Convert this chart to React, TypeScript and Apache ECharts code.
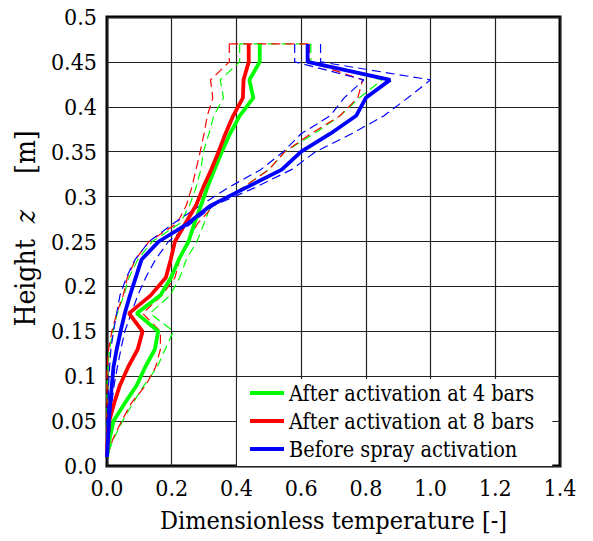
import React, { useEffect, useRef } from "react";
import * as echarts from "echarts";

const heights = [0.47, 0.45, 0.43, 0.41, 0.39, 0.37, 0.35, 0.33, 0.31, 0.29, 0.27, 0.25, 0.23, 0.21, 0.19, 0.17, 0.15, 0.13, 0.11, 0.09, 0.07, 0.05, 0.03, 0.01];

const before = [0.62, 0.62, 0.875, 0.80, 0.77, 0.69, 0.60, 0.54, 0.43, 0.32, 0.25, 0.16, 0.107, 0.089, 0.071, 0.055, 0.042, 0.03, 0.02, 0.015, 0.01, 0.006, 0.003, 0.0];
const beforeMax = [0.66, 0.66, 1.0, 0.93, 0.856, 0.756, 0.645, 0.57, 0.457, 0.33, 0.26, 0.19, 0.15, 0.12, 0.095, 0.075, 0.055, 0.043, 0.032, 0.022, 0.015, 0.01, 0.005, 0.0];
const beforeMin = [0.58, 0.58, 0.794, 0.733, 0.69, 0.60, 0.545, 0.475, 0.375, 0.288, 0.205, 0.13, 0.087, 0.06, 0.04, 0.03, 0.02, 0.012, 0.008, 0.005, 0.003, 0.0, 0.0, 0.0];

const bars4 = [0.472, 0.472, 0.44, 0.452, 0.41, 0.38, 0.355, 0.332, 0.31, 0.29, 0.27, 0.252, 0.222, 0.198, 0.165, 0.092, 0.158, 0.148, 0.118, 0.092, 0.055, 0.02, 0.008, 0.0];
const bars4Max = [0.63, 0.63, 0.85, 0.78, 0.72, 0.64, 0.55, 0.50, 0.42, 0.32, 0.30, 0.278, 0.245, 0.225, 0.195, 0.133, 0.205, 0.18, 0.155, 0.115, 0.08, 0.048, 0.02, 0.0];
const bars4Min = [0.41, 0.41, 0.35, 0.36, 0.33, 0.315, 0.298, 0.29, 0.275, 0.255, 0.225, 0.14, 0.095, 0.068, 0.052, 0.032, 0.018, 0.008, 0.003, 0.0, 0.0, 0.0, 0.0, 0.0];

const bars8 = [0.438, 0.438, 0.422, 0.42, 0.39, 0.366, 0.345, 0.322, 0.297, 0.275, 0.242, 0.21, 0.197, 0.182, 0.135, 0.068, 0.11, 0.095, 0.065, 0.04, 0.022, 0.007, 0.002, 0.0];
const bars8Max = [0.625, 0.625, 0.79, 0.775, 0.72, 0.63, 0.55, 0.50, 0.42, 0.33, 0.28, 0.25, 0.225, 0.21, 0.17, 0.11, 0.165, 0.165, 0.15, 0.12, 0.075, 0.045, 0.018, 0.0];
const bars8Min = [0.378, 0.378, 0.32, 0.327, 0.31, 0.30, 0.288, 0.275, 0.262, 0.245, 0.216, 0.13, 0.088, 0.063, 0.05, 0.03, 0.015, 0.005, 0.0, 0.0, 0.0, 0.0, 0.0, 0.0];

const xTicks = ["0.0", "0.2", "0.4", "0.6", "0.8", "1.0", "1.2", "1.4"];
const names = ["After activation at 4 bars", "After activation at 8 bars", "Before spray activation"];

const GREEN = "#00ff00";
const RED = "#ff0000";
const BLUE = "#0000ff";
const FONT = "DejaVu Serif Condensed, DejaVu Serif";

function pairs(vals: number[]) {
  return vals.map((v, i) => [v, heights[i]]);
}

function dashedStyle(color: string) {
  return { color, width: 1.2, type: [9, 5] };
}

function dashed(name: string, vals: number[], color: string) {
  return { name, type: "line", data: pairs(vals), symbol: "none", lineStyle: dashedStyle(color), z: 2 };
}

// top cap joining the lower and upper bounds at the highest measuring point
function cap(name: string, lo: number[], hi: number[], color: string) {
  return {
    name,
    type: "line",
    data: [
      [lo[0], heights[0]],
      [hi[0], heights[0]],
    ],
    symbol: "none",
    lineStyle: dashedStyle(color),
    z: 2,
  };
}

function solid(name: string, vals: number[], color: string) {
  return { name, type: "line", data: pairs(vals), symbol: "none", lineStyle: { color, width: 3.8 }, itemStyle: { color }, z: 3 };
}

export default function App() {
  const ref = useRef<HTMLDivElement>(null);
  useEffect(() => {
    if (!ref.current) return;
    const chart = echarts.init(ref.current, undefined, { renderer: "svg" });
    chart.setOption({
      animation: false,
      backgroundColor: "#fff",
      textStyle: { fontFamily: FONT },
      grid: { left: 107, top: 17, right: 33, bottom: 75, show: true, borderColor: "#000", borderWidth: 3, backgroundColor: "transparent" },
      xAxis: {
        type: "value", min: 0, max: 1.4, interval: 0.2,
        name: "Dimensionless temperature [-]", nameLocation: "middle", nameGap: 42,
        nameTextStyle: { fontFamily: FONT, fontSize: 25, color: "#000" },
        axisLine: { show: false }, axisTick: { show: false },
        axisLabel: { fontFamily: FONT, fontSize: 23, color: "#000", margin: 10, formatter: (v: number) => xTicks[Math.round(v / 0.2)] ?? v.toFixed(1) },
        splitLine: { show: true, lineStyle: { color: "#222", width: 1.2 } },
      },
      yAxis: {
        type: "value", min: 0, max: 0.5, interval: 0.05,
        name: "{h|Height}{i|z}{m|[m]}", nameLocation: "middle", nameGap: 68, nameRotate: 90,
        nameTextStyle: {
          fontFamily: FONT, fontSize: 28, color: "#000",
          rich: {
            h: { fontFamily: FONT, fontSize: 28, color: "#000", padding: [0, 16, 0, 26] },
            i: { fontFamily: FONT, fontSize: 28, color: "#000", fontStyle: "italic", padding: [0, 36, 0, 0] },
            m: { fontFamily: FONT, fontSize: 28, color: "#000" },
          },
        },
        axisLine: { show: false }, axisTick: { show: false },
        axisLabel: { fontFamily: FONT, fontSize: 23, color: "#000", margin: 10, formatter: (v: number) => (Math.abs(v) < 1e-9 ? "0.0" : String(Math.round(v * 100) / 100)) },
        splitLine: { show: true, lineStyle: { color: "#222", width: 1.2 } },
      },
      legend: {
        data: names, orient: "vertical", left: 237, top: 379, backgroundColor: "#fff",
        padding: [3, 18, 6, 13], itemGap: 6, itemWidth: 34, itemHeight: 4, icon: "rect",
        textStyle: { fontFamily: FONT, fontSize: 21.5, color: "#000" },
      },
      series: [
        dashed("g-min", bars4Min, GREEN),
        dashed("g-max", bars4Max, GREEN),
        cap("g-cap", bars4Min, bars4Max, GREEN),
        dashed("r-min", bars8Min, RED),
        dashed("r-max", bars8Max, RED),
        cap("r-cap", bars8Min, bars8Max, RED),
        dashed("b-min", beforeMin, BLUE),
        dashed("b-max", beforeMax, BLUE),
        solid(names[0], bars4, GREEN),
        solid(names[1], bars8, RED),
        solid(names[2], before, BLUE),
      ],
    });
    return () => chart.dispose();
  }, []);
  return <div ref={ref} style={{ position: "fixed", left: 0, top: 0, width: 593, height: 541 }} />;
}
